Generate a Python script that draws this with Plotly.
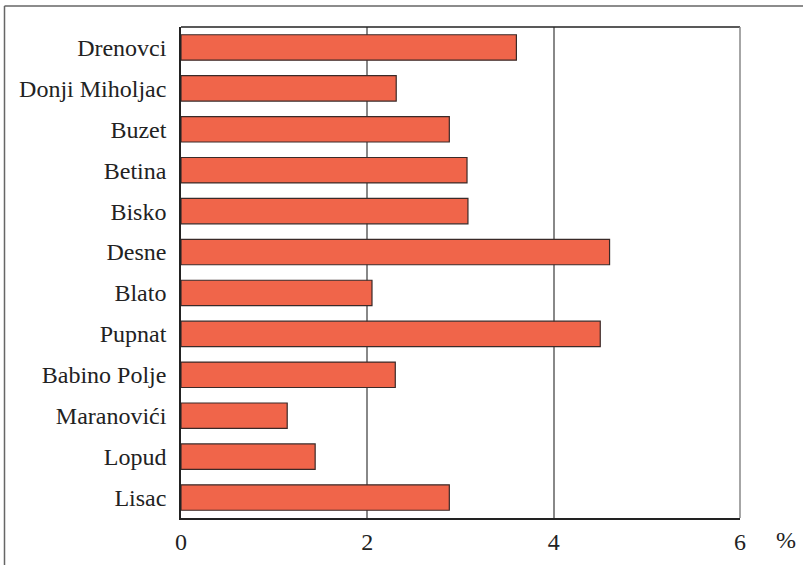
import plotly.graph_objects as go

categories = ["Drenovci", "Donji Miholjac", "Buzet", "Betina", "Bisko", "Desne",
              "Blato", "Pupnat", "Babino Polje", "Maranovići", "Lopud", "Lisac"]
values = [3.60, 2.31, 2.88, 3.07, 3.08, 4.60, 2.05, 4.50, 2.30, 1.14, 1.44, 2.88]
x_ticks = [0, 2, 4, 6]
unit_label = "%"

W, H = 803, 565
L, R, T, B = 181, 63, 27, 47
pw, ph = W - L - R, H - T - B

def px_x(p):
    return (p - L) / pw

def px_y(p):
    return (H - B - p) / ph

font = "Liberation Serif"
FS = 24

fig = go.Figure(go.Bar(
    y=categories, x=values, orientation="h",
    marker=dict(color="#F0654A", line=dict(color="#3a2a28", width=1.2)),
    width=0.62,
))

fig.update_layout(
    width=W, height=H,
    margin=dict(l=L, r=R, t=T, b=B, pad=0, autoexpand=False),
    paper_bgcolor="white", plot_bgcolor="white",
    showlegend=False,
    font=dict(family=font, size=FS, color="#222"),
)
fig.update_yaxes(
    categoryorder="array", categoryarray=categories[::-1],
    range=[-0.5, len(categories) - 0.5],
    showgrid=False, showline=True, linecolor="#222", linewidth=1.5,
    ticks="", ticklabelstandoff=8, tickfont=dict(family=font, size=FS, color="#222"),
    zeroline=False,
)
fig.update_xaxes(
    range=[0, 6], tickvals=x_ticks, ticktext=[str(v) for v in x_ticks],
    showgrid=True, gridcolor="#888", gridwidth=1.5,
    showline=True, linecolor="#222", linewidth=1.5,
    ticks="", ticklabelstandoff=1, tickfont=dict(family=font, size=FS, color="#222"),
    zeroline=False,
)

shapes = [
    dict(type="line", xref="paper", yref="paper", x0=0, x1=1, y0=1, y1=1,
         line=dict(color="#222", width=1.5)),
    dict(type="line", xref="paper", yref="paper", x0=1, x1=1, y0=0, y1=1,
         line=dict(color="#888", width=1.5)),
    dict(type="line", xref="paper", yref="paper", x0=px_x(4.5), x1=px_x(4.5),
         y0=px_y(6), y1=px_y(566), line=dict(color="#666", width=1.5)),
    dict(type="line", xref="paper", yref="paper", x0=px_x(4.5), x1=px_x(804),
         y0=px_y(6), y1=px_y(6), line=dict(color="#666", width=1.5)),
]
fig.update_layout(shapes=shapes)

fig.add_annotation(
    x=px_x(786), y=px_y(525), xref="paper", yref="paper",
    text=unit_label, showarrow=False, xanchor="center", yanchor="top",
    font=dict(family=font, size=FS, color="#222"),
)

fig.write_html("out.html", config={"displayModeBar": False},
               post_script="document.body.style.margin='0';")
